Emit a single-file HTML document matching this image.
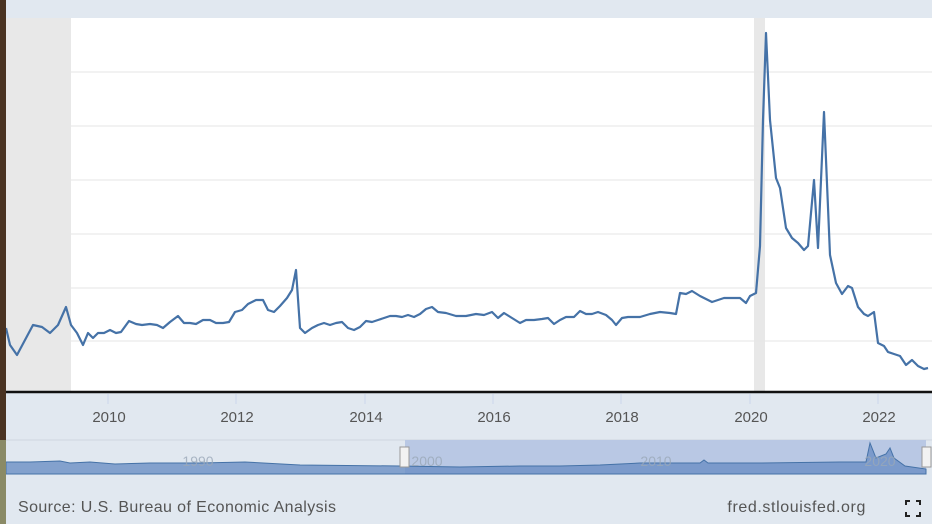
<!DOCTYPE html>
<html><head><style>
html,body{margin:0;padding:0;width:932px;height:524px;overflow:hidden;background:#e1e8f0;font-family:"Liberation Sans",sans-serif;}
</style></head><body>
<svg width="932" height="524" viewBox="0 0 932 524" xmlns="http://www.w3.org/2000/svg" style="position:absolute;left:0;top:0">
<rect x="0" y="0" width="932" height="524" fill="#e1e8f0"/>
<rect x="6" y="18" width="926" height="374" fill="#ffffff"/>
<rect x="6" y="18" width="65" height="374" fill="#e8e8e8"/>
<rect x="754" y="18" width="11" height="374" fill="#e8e8e8"/>
<g stroke="#e6e6e6" stroke-width="1">
<line x1="71" y1="72" x2="932" y2="72"/><line x1="71" y1="126" x2="932" y2="126"/>
<line x1="71" y1="180" x2="932" y2="180"/><line x1="71" y1="234" x2="932" y2="234"/>
<line x1="71" y1="288" x2="932" y2="288"/><line x1="71" y1="341" x2="932" y2="341"/>
</g>
<polyline fill="none" stroke="#4572a7" stroke-width="2.2" stroke-linejoin="round" points="6,328 10,345 17,355 25,340 33,325 42,327 50,333 58,325 66,307 71,325 77,333 83,345 88,333 93,338 98,333 104,333 110,330 116,333 121,332 129,321 136,324 142,325 150,324 157,325 163,328 170,322 178,316 184,323 190,323 196,324 203,320 210,320 216,323 223,323 229,322 235,312 242,310 248,304 256,300 263,300 268,310 274,312 280,306 287,298 292,290 296,270 300,328 305,333 312,328 318,325 324,323 330,325 336,323 342,322 348,328 354,330 360,327 366,321 372,322 378,320 384,318 390,316 396,316 402,317 408,315 414,317 420,314 426,309 432,307 438,312 446,313 456,316 466,316 476,314 484,315 492,312 498,318 504,313 512,318 520,323 526,320 534,320 542,319 548,318 554,324 560,320 566,317 574,317 580,311 586,314 592,314 598,312 606,315 612,320 616,325 622,318 628,317 640,317 650,314 660,312 670,313 676,314 680,293 686,294 692,291 700,296 706,299 712,302 718,300 724,298 730,298 740,298 746,303 750,296 756,293 760,246 763,120 766,33 770,120 776,178 780,188 786,228 792,238 798,243 804,250 808,246 814,180 818,248 824,112 830,255 836,283 842,294 848,286 852,288 858,307 864,314 868,316 874,312 878,343 884,346 888,352 894,354 900,356 906,365 912,360 918,366 924,369 928,368"/>
<line x1="6" y1="392" x2="932" y2="392" stroke="#111" stroke-width="2.5"/>
<g stroke="#ccd6eb" stroke-width="1">
<line x1="108" y1="394" x2="108" y2="404"/><line x1="236" y1="394" x2="236" y2="404"/>
<line x1="365" y1="394" x2="365" y2="404"/><line x1="493" y1="394" x2="493" y2="404"/>
<line x1="621" y1="394" x2="621" y2="404"/><line x1="750" y1="394" x2="750" y2="404"/>
<line x1="878" y1="394" x2="878" y2="404"/>
</g>
<g font-size="15" fill="#555" text-anchor="middle">
<text x="109" y="422">2010</text><text x="237" y="422">2012</text><text x="366" y="422">2014</text>
<text x="494" y="422">2016</text><text x="622" y="422">2018</text><text x="751" y="422">2020</text>
<text x="879" y="422">2022</text>
</g>
<line x1="6" y1="440" x2="932" y2="440" stroke="#cfd6df"/>
<rect x="405" y="440" width="521" height="34" fill="#b9c8e4"/>
<path d="M6,462 L30,462 L60,461 L70,463 L90,462 L115,464 L150,463 L200,463 L245,462 L300,465 L400,466 L460,467 L520,466 L560,466 L600,465 L640,463 L700,463 L704,460 L708,463 L760,463 L840,462 L866,462 L870,443 L876,458 L886,454 L890,448 L894,458 L905,466 L926,469 L926,474 L6,474 Z" fill="#6b8fc4" fill-opacity="0.8" stroke="#4572a7" stroke-width="1"/>
<g font-size="14" fill="#9aa8b8" text-anchor="middle" opacity="0.8">
<text x="198" y="466">1990</text><text x="427" y="466">2000</text><text x="656" y="466">2010</text><text x="880" y="466">2020</text>
</g>
<rect x="400" y="447" width="9" height="20" fill="#f2f2f2" stroke="#999"/>
<rect x="922" y="447" width="9" height="20" fill="#f2f2f2" stroke="#999"/>
<text x="18" y="512" font-size="16" letter-spacing="0.4" fill="#555">Source: U.S. Bureau of Economic Analysis</text>
<text x="866" y="512" font-size="16" letter-spacing="0.6" fill="#555" text-anchor="end">fred.stlouisfed.org</text>
<g stroke="#222" stroke-width="2" fill="none">
<path d="M906,505 v-4 h4"/><path d="M916,501 h4 v4"/><path d="M906,512 v4 h4"/><path d="M916,516 h4 v-4"/>
</g>
<rect x="0" y="0" width="6" height="524" fill="#4a3322"/>
<rect x="0" y="440" width="6" height="84" fill="#8a8a66"/>
</svg>
</body></html>
